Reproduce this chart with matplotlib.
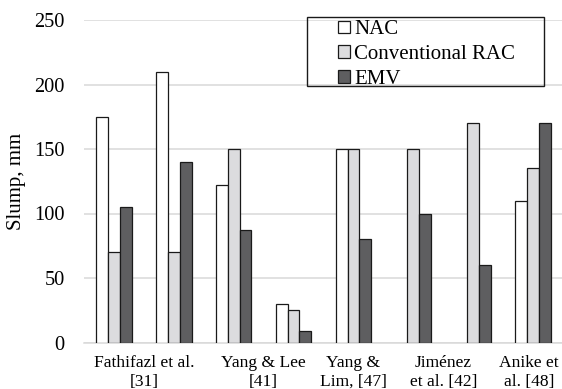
import numpy as np
import matplotlib
matplotlib.use("Agg")
import matplotlib.pyplot as plt
from matplotlib.patches import Rectangle
from matplotlib.transforms import ScaledTranslation

plt.rcParams['font.family'] = ['Liberation Serif', 'DejaVu Serif']

# slump values (mm) for each mix pair, nan = not reported
nac = [175, 210, 122, 30, 150, np.nan, np.nan, 110]
rac = [70, 70, 150, 25, 150, 150, 170, 135]
emv = [105, 140, 87, 9, 80, 100, 60, 170]

# study labels and the bar groups each one spans
studies = ['Fathifazl et al.\n[31]', 'Yang & Lee\n[41]', 'Yang &\nLim, [47]',
           'Jiménez\net al. [42]', 'Anike et\nal. [48]']
study_groups = [[0, 1], [2, 3], [4], [5, 6], [7]]

W, H = 562, 389
fig = plt.figure(figsize=(W / 100, H / 100), dpi=100)
ax = fig.add_axes([84 / W, 46.5 / H, 479 / W, 322.5 / H])

x = np.arange(len(rac))
w = 0.197
ax.bar(x - w, nac, w, color='white', edgecolor='#1a1a1a', linewidth=0.9, label='NAC', zorder=3)
ax.bar(x, rac, w, color='#dcdcde', edgecolor='#1a1a1a', linewidth=0.9, label='Conventional RAC', zorder=3)
ax.bar(x + w, emv, w, color='#5e5e60', edgecolor='#1a1a1a', linewidth=0.9, label='EMV', zorder=3)

ax.set_xlim(-0.5, len(rac) - 0.5)
ax.set_ylim(0, 250)
ax.set_yticks(np.arange(0, 251, 50))
ax.yaxis.grid(True, color='#d9d9d9', linewidth=1.1, zorder=0)
ax.set_axisbelow(True)
for s in ['top', 'right', 'left']:
    ax.spines[s].set_visible(False)
ax.spines['bottom'].set_color('#d9d9d9')
ax.spines['bottom'].set_linewidth(1.1)

ax.set_xticks([np.mean(g) for g in study_groups])
ax.set_xticklabels(studies, fontsize=12.6, linespacing=1.25)
ax.tick_params(axis='x', length=0, pad=9)
ax.tick_params(axis='y', length=0, pad=14, labelsize=14.7)
ax.set_ylabel('Slump, mm', fontsize=15, labelpad=6)

# keep the last study label inside the figure edge
last = ax.get_xticklabels()[-1]
last.set_transform(last.get_transform() + ScaledTranslation(-3 / 72, 0, fig.dpi_scale_trans))

# legend entries without frame, box drawn separately
leg = fig.legend(*ax.get_legend_handles_labels(), loc='upper left',
                 bbox_to_anchor=(338 / W, 1 - 20.5 / H), fontsize=15, frameon=False,
                 handlelength=0.56, handleheight=0.56, handletextpad=0.22,
                 labelspacing=0.27, borderpad=0.0, borderaxespad=0)
fig.patches.append(Rectangle((307.3 / W, 1 - 86 / H), 237 / W, 69.3 / H,
                             transform=fig.transFigure, fill=False,
                             edgecolor='#1a1a1a', linewidth=1.0))

fig.savefig('out.png', dpi=100)
